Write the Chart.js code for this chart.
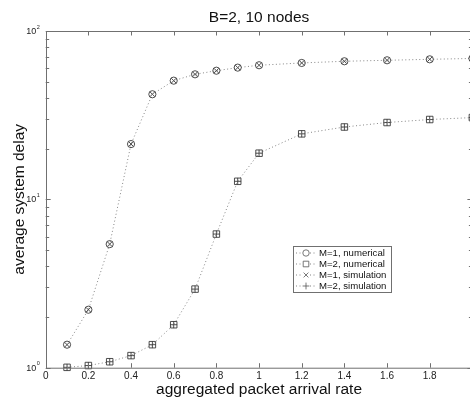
<!DOCTYPE html>
<html><head><meta charset="utf-8">
<script src="https://cdn.jsdelivr.net/npm/chart.js@4/dist/chart.umd.min.js"></script>
<style>html,body{margin:0;padding:0;background:#fff;overflow:hidden}</style>
</head><body>
<canvas id="c" width="480" height="401" style="display:block"></canvas>
<script>
const arrivalRates = [0.1,0.2,0.3,0.4,0.5,0.6,0.7,0.8,0.9,1.0,1.2,1.4,1.6,1.8,2.0];
const m1Numerical  = [1.37,2.21,5.42,21.3,42.1,50.7,55.3,58.1,60.6,62.6,64.6,66.1,67.0,67.9,68.7];
const m2Numerical  = [1.005,1.03,1.085,1.18,1.37,1.8,2.93,6.22,12.8,18.8,24.5,26.9,28.6,29.8,30.6];
const m1Simulation = [1.37,2.21,5.42,21.3,42.1,50.7,55.3,58.1,60.6,62.6,64.6,66.1,67.0,67.9,68.7];
const m2Simulation = [1.005,1.03,1.085,1.18,1.37,1.8,2.93,6.22,12.8,18.8,24.5,26.9,28.6,29.8,30.6];
const xTickLabels = ['0','0.2','0.4','0.6','0.8','1','1.2','1.4','1.6','1.8','2'];
const yTickValues = [1,10,100];
const yTickBase = '10';
const yTickExponents = ['0','1','2'];
const legendLabels = ['M=1, numerical','M=2, numerical','M=1, simulation','M=2, simulation'];
const titleText = 'B=2, 10 nodes';
const xTitle = 'aggregated packet arrival rate';
const yTitle = 'average system delay';

const FONT = "'Liberation Sans', Arial, Helvetica, sans-serif";
const LINE = '#858585', MARK = '#3a3a3a';
const pts = ys => arrivalRates.map((x,i)=>({x, y: ys[i]}));
const styles = [
  {pointStyle:'circle', radius:3.6, showLine:true},
  {pointStyle:'rect', radius:4.6, showLine:true},
  {pointStyle:'crossRot', radius:3.4, showLine:false},
  {pointStyle:'cross', radius:3.4, showLine:false}
];
const series = [m1Numerical, m2Numerical, m1Simulation, m2Simulation];
const datasets = series.map((s,i)=>({
  label: legendLabels[i], data: pts(s),
  showLine: styles[i].showLine, borderColor: LINE, borderWidth: 1, borderDash:[1,2.5],
  pointStyle: styles[i].pointStyle, pointRadius: styles[i].radius, pointHoverRadius: styles[i].radius,
  pointBorderColor: MARK, pointBackgroundColor: 'rgba(0,0,0,0)', pointBorderWidth: 0.9,
  fill:false, tension:0, clip:false
}));

function seg(ctx,x1,y1,x2,y2){ctx.beginPath();ctx.moveTo(x1,y1);ctx.lineTo(x2,y2);ctx.stroke();}

const boxPlugin = {
  id:'matlabBox',
  afterDraw(chart){
    const {ctx, chartArea:{left,right,top,bottom}, scales:{x,y}} = chart;
    ctx.save();
    ctx.strokeStyle = '#707070'; ctx.lineWidth = 1;
    ctx.strokeRect(Math.round(left)+0.5, Math.round(top)+0.5, right-left, bottom-top);
    xTickLabels.forEach(l=>{
      const px = Math.round(x.getPixelForValue(parseFloat(l)))+0.5;
      seg(ctx,px,bottom,px,bottom-4.5); seg(ctx,px,top,px,top+4.5);
    });
    for (let d=1; d<=100; d*=10){
      for (let k=1;k<=9;k++){
        const v=d*k; if (v>100) break;
        const py = Math.round(y.getPixelForValue(v))+0.5;
        const len = k===1?5:3.5;
        seg(ctx,left,py,left+len,py); seg(ctx,right,py,right-len,py);
      }
    }
    // y tick labels with superscripts
    ctx.fillStyle = '#222'; ctx.textBaseline='middle';
    yTickValues.forEach((v,i)=>{
      const py = y.getPixelForValue(v);
      ctx.font = `9px ${FONT}`;
      ctx.textAlign='right';
      const supW = 4;
      ctx.fillText(yTickBase, left-7-supW+1.5, py+0.5);
      ctx.font = `5.5px ${FONT}`;
      ctx.textAlign='left';
      ctx.fillText(yTickExponents[i], left-7-supW+2, py-3.8);
    });
    // legend
    const lx=293, ly=246, lw=98, lh=46;
    ctx.fillStyle='#fff'; ctx.fillRect(lx,ly,lw,lh);
    ctx.strokeStyle='#707070'; ctx.strokeRect(lx+0.5,ly+0.5,lw,lh);
    legendLabels.forEach((lab,i)=>{
      const yy = ly+7+i*11;
      ctx.strokeStyle=LINE; ctx.setLineDash([1,2.5]); seg(ctx,lx+3,yy,lx+22,yy); ctx.setLineDash([]);
      const mx = lx+13;
      ctx.fillStyle='#fff'; ctx.fillRect(mx-4,yy-4,8,8);
      ctx.strokeStyle='#555'; ctx.lineWidth=0.8;
      ctx.beginPath();
      if (i===0){ ctx.arc(mx,yy,3.2,0,Math.PI*2); }
      else if (i===1){ ctx.rect(mx-2.8,yy-2.8,5.6,5.6); }
      else if (i===2){ ctx.moveTo(mx-2.4,yy-2.4);ctx.lineTo(mx+2.4,yy+2.4);ctx.moveTo(mx+2.4,yy-2.4);ctx.lineTo(mx-2.4,yy+2.4); }
      else { ctx.moveTo(mx-3.4,yy);ctx.lineTo(mx+3.4,yy);ctx.moveTo(mx,yy-3.4);ctx.lineTo(mx,yy+3.4); }
      ctx.stroke(); ctx.lineWidth=1;
      ctx.fillStyle='#111'; ctx.font=`9.6px ${FONT}`; ctx.textAlign='left'; ctx.textBaseline='middle';
      ctx.fillText(lab, lx+26, yy+0.5);
    });
    ctx.restore();
  }
};

new Chart(document.getElementById('c'), {
  type:'scatter',
  data:{datasets},
  options:{
    responsive:false, animation:false, devicePixelRatio:1,
    layout:{padding:{left:0,right:7.6,top:0,bottom:0}},
    plugins:{
      legend:{display:false}, tooltip:{enabled:false},
      title:{display:true, text:titleText, fullSize:false, color:'#111',
        font:{family:FONT, size:15.5, weight:'normal'}, padding:{top:8,bottom:4.4}}
    },
    scales:{
      x:{type:'linear', min:0, max:2,
        ticks:{stepSize:0.2, autoSkip:false, maxRotation:0, padding:2.4, color:'#222',
          font:{family:FONT,size:10},
          callback:(v)=>{const l=xTickLabels.find(t=>Math.abs(parseFloat(t)-v)<1e-6);return l===undefined?'':l;}},
        grid:{display:false, drawTicks:false}, border:{display:false},
        title:{display:true, text:xTitle, color:'#111', font:{family:FONT,size:15.5}, padding:{top:0,bottom:2}},
        afterFit(s){s.height=33.3;}
      },
      y:{type:'logarithmic', min:1, max:100,
        ticks:{display:false}, grid:{display:false, drawTicks:false}, border:{display:false},
        title:{display:true, text:yTitle, color:'#111', font:{family:FONT,size:15.5}, padding:{top:10,bottom:0}},
        afterFit(s){s.width=45.7;}
      }
    }
  },
  plugins:[boxPlugin]
});
</script>
</body></html>
